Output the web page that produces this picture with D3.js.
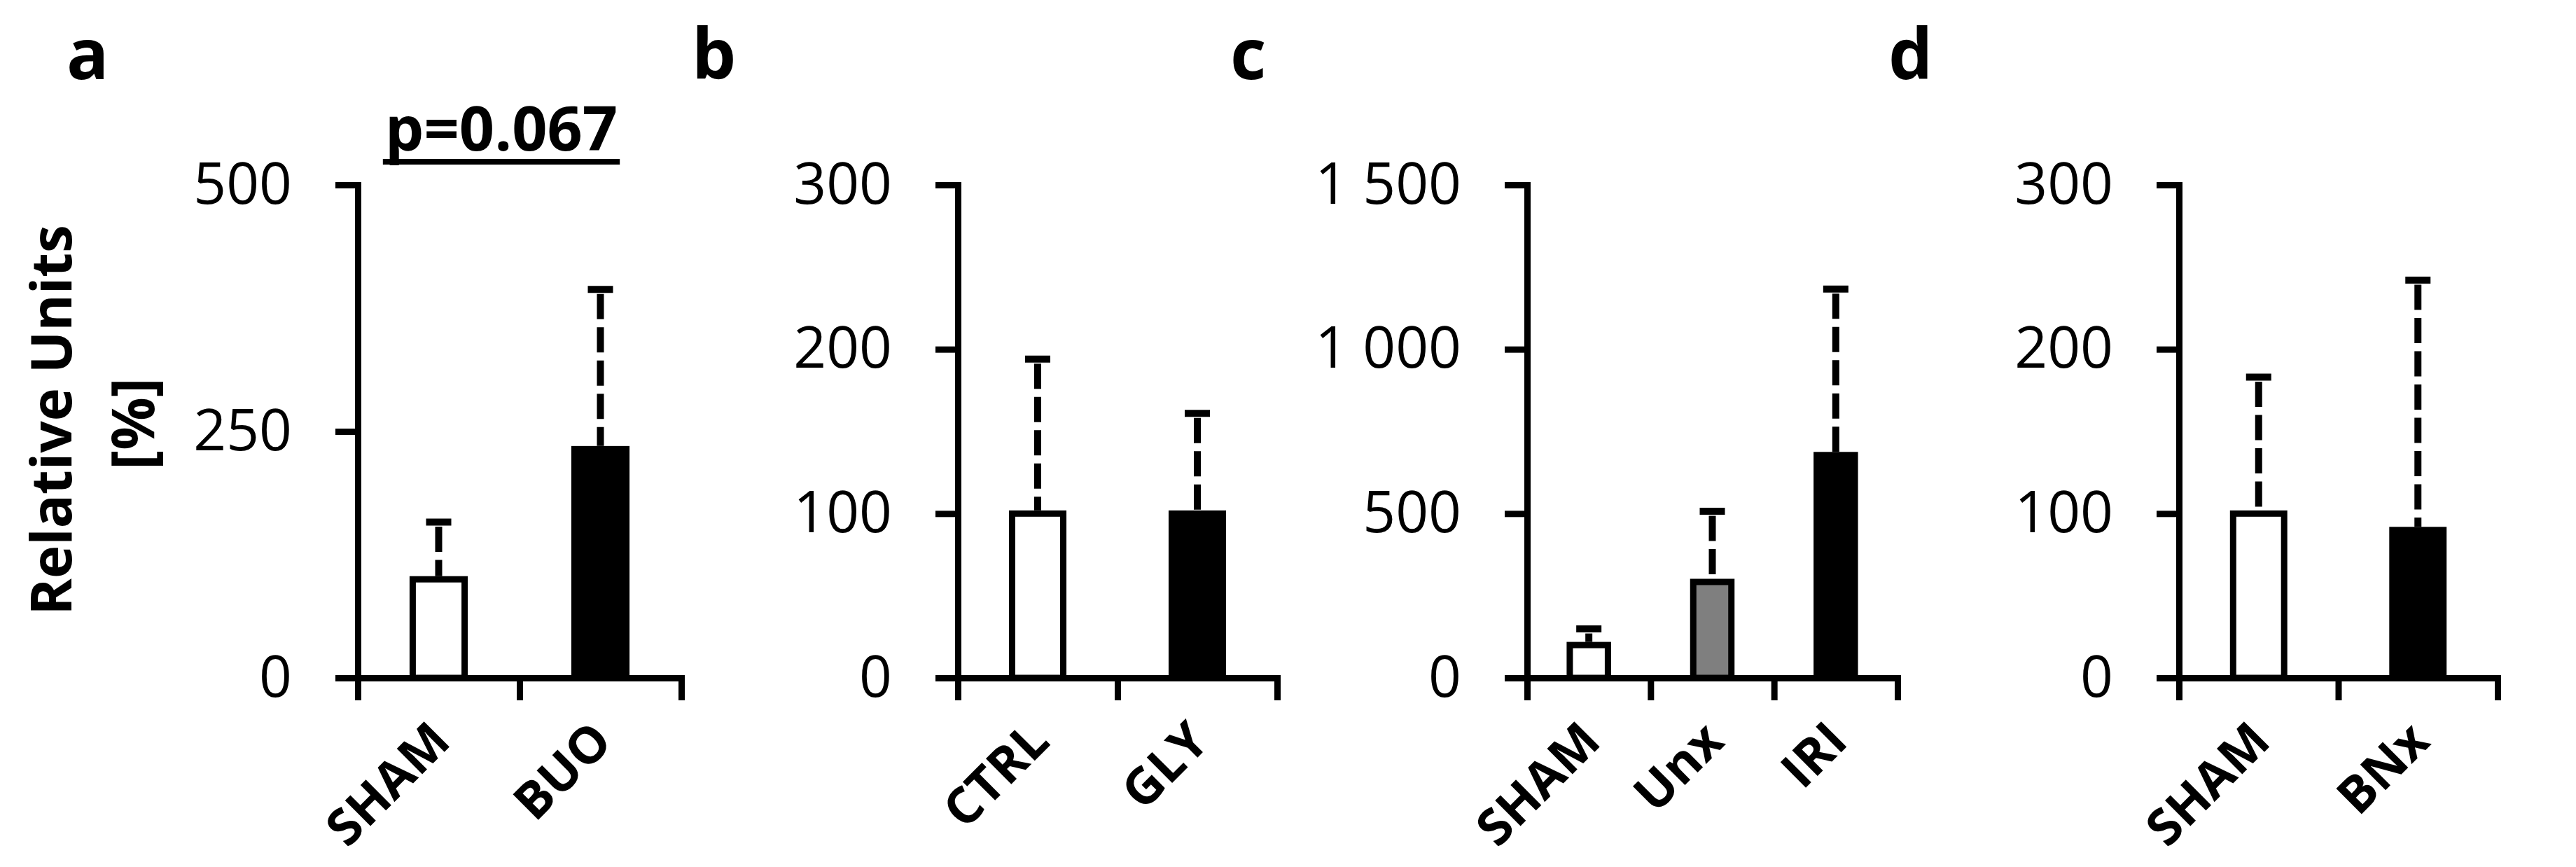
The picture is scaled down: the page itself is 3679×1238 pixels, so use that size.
<!DOCTYPE html>
<html>
<head>
<meta charset="utf-8">
<script src="https://cdn.jsdelivr.net/npm/d3@7"></script>
<style>
html, body { margin: 0; padding: 0; background: #fff; }
svg { display: block; font-family: "Open Sans", sans-serif; }
</style>
</head>
<body>
<svg id="chart" width="3679" height="1238"></svg>
<script>
// panel a
const aLabels = ["SHAM", "BUO"];
const aMeans = [100, 232];
const aSD = [58, 162];
const aTicks = [0, 250, 500];

// panel b
const bLabels = ["CTRL", "GLY"];
const bMeans = [100, 100];
const bSD = [94, 61];
const bTicks = [0, 100, 200, 300];

// panel c
const cLabels = ["SHAM", "Unx", "IRI"];
const cMeans = [100, 292, 678];
const cSD = [49, 215, 505];
const cTicks = [0, 500, 1000, 1500];

// panel d
const dLabels = ["SHAM", "BNx"];
const dMeans = [100, 90];
const dSD = [83, 152];
const dTicks = [0, 100, 200, 300];

const pValue = "p=0.067";

const Y0 = 968;
const YTOP = 264;
const LW = 9;

const panels = [
    { letter: "a", labels: aLabels, means: aMeans, sd: aSD, ticks: aTicks, x0: 511, x1: 973, letterX: 95 },
    { letter: "b", labels: bLabels, means: bMeans, sd: bSD, ticks: bTicks, x0: 1368, x1: 1824, letterX: 988 },
    { letter: "c", labels: cLabels, means: cMeans, sd: cSD, ticks: cTicks, x0: 2181, x1: 2710, letterX: 1757 },
    { letter: "d", labels: dLabels, means: dMeans, sd: dSD, ticks: dTicks, x0: 3112, x1: 3567, letterX: 2697 }
];

// first group white, last black, anything between grey
function fillFor(i, n) {
    if (i === 0) return "#fff";
    if (i === n - 1) return "#000";
    return "#7f7f7f";
}

const fmt = d3.formatLocale({ decimal: ".", thousands: " ", grouping: [3], currency: ["", ""] }).format(",");

const svg = d3.select("#chart");
svg.append("rect").attr("width", 3679).attr("height", 1238).attr("fill", "#fff");

function drawPanel(p) {
    const n = p.labels.length;
    const g = svg.append("g");

    const y = d3.scaleLinear().domain([0, d3.max(p.ticks)]).range([Y0, YTOP]);
    const x = d3.scaleBand().domain(p.labels).range([p.x0, p.x1]).padding(0);
    const xt = d3.scaleLinear().domain([0, n]).range([p.x0, p.x1]);
    const cx = d => x(d) + x.bandwidth() / 2;
    const barW = x.step() * 0.36 - LW;

    // error bars (dashed stem, solid cap)
    g.append("g").
    selectAll("line").
    data(p.labels).
    join("line").
    attr("x1", cx).
    attr("x2", cx).
    attr("y1", (d, i) => y(p.means[i] + p.sd[i])).
    attr("y2", (d, i) => y(p.means[i]) - LW / 2).
    attr("stroke", "#000").
    attr("stroke-width", 10).
    attr("stroke-dasharray", "36 11.5").
    attr("stroke-dashoffset", 41);

    g.append("g").
    selectAll("line").
    data(p.labels).
    join("line").
    attr("x1", d => cx(d) - 18).
    attr("x2", d => cx(d) + 18).
    attr("y1", (d, i) => y(p.means[i] + p.sd[i])).
    attr("y2", (d, i) => y(p.means[i] + p.sd[i])).
    attr("stroke", "#000").
    attr("stroke-width", 10);

    // bars
    g.append("g").
    selectAll("rect").
    data(p.labels).
    join("rect").
    attr("x", d => cx(d) - barW / 2).
    attr("y", (d, i) => y(p.means[i])).
    attr("width", barW).
    attr("height", (d, i) => Y0 - y(p.means[i])).
    attr("fill", (d, i) => fillFor(i, n)).
    attr("stroke", "#000").
    attr("stroke-width", LW);

    // x axis, ticks between categories
    const xa = g.append("g").
    attr("transform", `translate(0,${Y0})`).
    call(d3.axisBottom(xt).tickValues(d3.range(n + 1)).tickFormat("").tickSize(32).tickSizeOuter(0));

    // y axis
    const ya = g.append("g").
    attr("transform", `translate(${p.x0},0)`).
    call(d3.axisLeft(y).tickValues(p.ticks).tickFormat(fmt).tickSize(32).tickPadding(62).tickSizeOuter(0));

    [xa, ya].forEach(a => {
        a.attr("font-family", null).attr("font-size", null);
        a.selectAll("path.domain").attr("stroke", "#000").attr("stroke-width", LW).attr("stroke-linecap", "square");
        a.selectAll(".tick line").attr("stroke", "#000").attr("stroke-width", LW);
    });
    ya.selectAll(".tick text").
    attr("fill", "#000").
    style("font-family", "'Open Sans', sans-serif").
    style("font-size", "82px");

    // category labels
    g.append("g").
    selectAll("text").
    data(p.labels).
    join("text").
    attr("transform", d => `translate(${cx(d) + 20},${Y0 + 94}) rotate(-45)`).
    attr("text-anchor", "end").
    style("font-weight", "bold").
    style("font-size", "72px").
    text(d => d);

    // panel letter
    g.append("text").
    attr("x", p.letterX).
    attr("y", 113).
    style("font-weight", "bold").
    style("font-size", "100px").
    text(p.letter);
}

panels.forEach(drawPanel);

// y axis title
svg.append("text").
attr("transform", "translate(102,600) rotate(-90)").
attr("text-anchor", "middle").
style("font-weight", "bold").
style("font-size", "80px").
text("Relative Units");

svg.append("text").
attr("transform", "translate(220,605) rotate(-90)").
attr("text-anchor", "middle").
style("font-weight", "bold").
style("font-size", "84px").
text("[%]");

// p value above panel a
const pt = svg.append("text").
attr("x", 716).
attr("y", 215).
attr("text-anchor", "middle").
style("font-weight", "bold").
style("font-size", "88px").
text(pValue);

const bb = pt.node().getBBox();
svg.append("line").
attr("x1", bb.x - 3).
attr("x2", bb.x + bb.width + 3).
attr("y1", 231).
attr("y2", 231).
attr("stroke", "#000").
attr("stroke-width", 8);
</script>
</body>
</html>
